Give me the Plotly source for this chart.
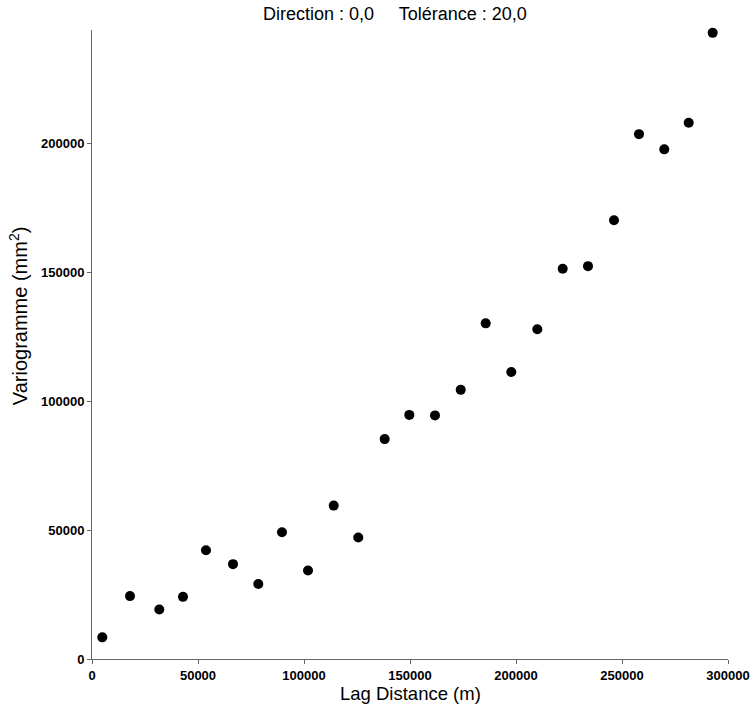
import plotly.graph_objects as go

lag_distance = [4860, 17920, 31750, 42920, 53770, 66510, 78440, 89620, 101890, 114010,
                125610, 138070, 149670, 161790, 173920, 185710, 197780, 210050, 222030,
                233960, 246230, 258020, 269950, 281460, 292780]
variogram = [8400, 24400, 19200, 24100, 42200, 36800, 29100, 49200, 34300, 59500,
             47100, 85300, 94700, 94500, 104400, 130200, 111300, 127900, 151400,
             152400, 170200, 203600, 197700, 208000, 242900]

x_ticks = [0, 50000, 100000, 150000, 200000, 250000, 300000]
y_ticks = [0, 50000, 100000, 150000, 200000]

fig = go.Figure()
fig.add_trace(go.Scatter(
    x=lag_distance, y=variogram, mode="markers",
    marker=dict(color="black", size=10, line=dict(width=0)),
    cliponaxis=False, showlegend=False,
))

font_family = "Liberation Sans, Arial, sans-serif"
fig.update_layout(
    width=755, height=725,
    margin=dict(l=92, r=27, t=30, b=66, autoexpand=False),
    paper_bgcolor="white", plot_bgcolor="white",
    xaxis=dict(range=[0, 300000], tickvals=x_ticks, ticktext=[str(v) for v in x_ticks],
               automargin=False,
               showgrid=False, zeroline=False, showline=True, linecolor="#666", linewidth=1,
               ticks="outside", ticklen=4, tickcolor="#666",
               tickfont=dict(family=font_family, size=13, color="black", weight="bold")),
    yaxis=dict(range=[0, 244000], tickvals=y_ticks, ticktext=[str(v) for v in y_ticks],
               automargin=False,
               showgrid=False, zeroline=False, showline=True, linecolor="#666", linewidth=1,
               ticks="outside", ticklen=4, tickcolor="#666",
               tickfont=dict(family=font_family, size=13, color="black", weight="bold")),
    annotations=[
        dict(text="Direction : 0,0     Tolérance : 20,0", xref="paper", yref="paper",
             x=0.476, y=1.0, yshift=16, xanchor="center", yanchor="middle", showarrow=False,
             font=dict(family=font_family, size=18, color="black")),
        dict(text="Lag Distance (m)", xref="paper", yref="paper",
             x=0.5, y=0, yshift=-34, xanchor="center", yanchor="middle", showarrow=False,
             font=dict(family=font_family, size=18.5, color="black")),
        dict(text="Variogramme (mm<sup>2</sup>)", xref="paper", yref="paper",
             x=0, xshift=-74, y=0.545, xanchor="center", yanchor="middle", showarrow=False,
             textangle=-90, font=dict(family=font_family, size=20, color="black")),
    ],
)

fig.write_html("out.html", config={"displayModeBar": False},
               post_script="document.body.style.margin='0';")
